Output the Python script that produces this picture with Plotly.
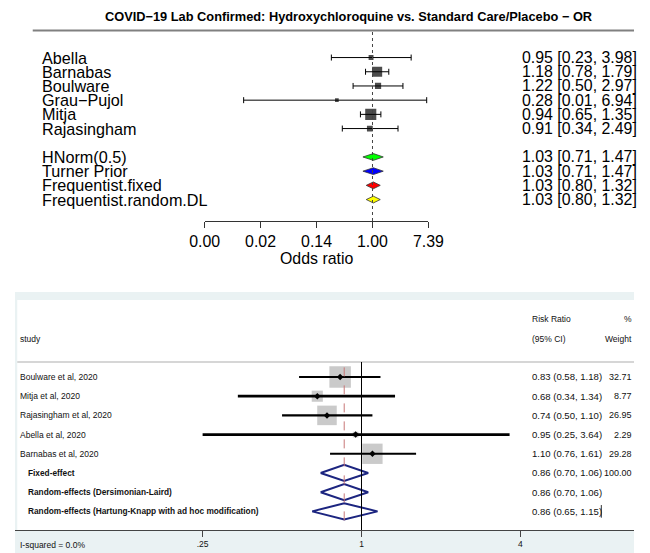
import math
import plotly.graph_objects as go

# ---------------- data: top panel (odds ratios) ----------------
top_title = "COVID\u221219 Lab Confirmed: Hydroxychloroquine vs. Standard Care/Placebo \u2212 OR"
top_studies = ["Abella", "Barnabas", "Boulware", "Grau\u2212Pujol", "Mitja", "Rajasingham"]
top_or = [0.95, 1.18, 1.22, 0.28, 0.94, 0.91]
top_lo = [0.23, 0.78, 0.50, 0.01, 0.65, 0.34]
top_hi = [3.98, 1.79, 2.97, 6.94, 1.35, 2.49]

pool_names = ["HNorm(0.5)", "Turner Prior", "Frequentist.fixed", "Frequentist.random.DL"]
pool_or = [1.03, 1.03, 1.03, 1.03]
pool_lo = [0.71, 0.71, 0.80, 0.80]
pool_hi = [1.47, 1.47, 1.32, 1.32]
pool_colors = ["#00ff00", "#0000ff", "#ff0000", "#ffff00"]

top_tick_logs = [-6, -4, -2, 0, 2]
top_tick_text = ["0.00", "0.02", "0.14", "1.00", "7.39"]
top_xlabel = "Odds ratio"

# ---------------- data: bottom panel (risk ratios) ----------------
bot_studies = ["Boulware et al, 2020", "Mitja et al, 2020", "Rajasingham et al, 2020",
               "Abella et al, 2020", "Barnabas et al, 2020"]
bot_rr = [0.83, 0.68, 0.74, 0.95, 1.10]
bot_lo = [0.58, 0.34, 0.50, 0.25, 0.76]
bot_hi = [1.18, 1.34, 1.10, 3.64, 1.61]
bot_w = [32.71, 8.77, 26.95, 2.29, 29.28]

sum_names = ["Fixed-effect", "Random-effects (Dersimonian-Laird)",
             "Random-effects (Hartung-Knapp with ad hoc modification)"]
sum_rr = [0.86, 0.86, 0.86]
sum_lo = [0.70, 0.70, 0.65]
sum_hi = [1.06, 1.06, 1.15]
sum_w = [100.00, None, None]

bot_ticks = [0.25, 1, 4]
bot_tick_text = [".25", "1", "4"]
isq_text = "I-squared = 0.0%"

# ---------------- layout helpers ----------------
W, H = 650, 553
SX, OX = 0.953, 15.25          # horizontal mapping of the captured page

def fxp(X):
    """target picture x (px) -> figure px"""
    return (X - OX) / SX

def fx(X):
    return min(max(fxp(X), 0.0), W) / W

def fy(p):
    return 1 - p / H

TOPFONT = "Liberation Sans, Arial, sans-serif"
BOTFONT = "Liberation Sans, Arial, sans-serif"

fig = go.Figure()

# ---------- top panel ----------
top_rows = list(range(len(top_studies)))
pool_rows = [len(top_studies) + 1 + i for i in range(len(pool_names))]

inv_se = [3.92 / (math.log(h) - math.log(l)) for l, h in zip(top_lo, top_hi)]
mn, mx = min(inv_se), max(inv_se)
top_sizes = [7.4 * (0.5 + (v - mn) / (mx - mn)) for v in inv_se]

fig.add_trace(go.Scatter(
    x=top_or, y=top_rows, mode="markers", xaxis="x", yaxis="y",
    marker=dict(symbol="square", size=top_sizes, color="black", line=dict(width=0)),
    error_x=dict(type="data", symmetric=False,
                 array=[h - o for h, o in zip(top_hi, top_or)],
                 arrayminus=[o - l for o, l in zip(top_or, top_lo)],
                 color="black", thickness=1, width=3),
    showlegend=False, hoverinfo="skip"))

dh = 0.24
for r, o, l, h, c in zip(pool_rows, pool_or, pool_lo, pool_hi, pool_colors):
    fig.add_trace(go.Scatter(
        x=[l, o, h, o, l], y=[r, r - dh, r, r + dh, r], mode="lines",
        xaxis="x", yaxis="y", fill="toself", fillcolor=c,
        line=dict(color="#333333", width=0.8),
        showlegend=False, hoverinfo="skip"))

# ---------- bottom panel ----------
brows = list(range(len(bot_studies)))
srows = [len(bot_studies) + i for i in range(len(sum_names))]
wmax = max(bot_w)
box_sizes = [21.5 * math.sqrt(w / wmax) for w in bot_w]

fig.add_trace(go.Scatter(
    x=bot_rr, y=brows, mode="markers", xaxis="x2", yaxis="y2",
    marker=dict(symbol="square", size=box_sizes, color="#b4b4b4", line=dict(width=0)),
    showlegend=False, hoverinfo="skip"))

line_w = [2.0, 2.8, 2.3, 2.6, 2.0]
for r, l, h, lw in zip(brows, bot_lo, bot_hi, line_w):
    fig.add_trace(go.Scatter(
        x=[l, h], y=[r, r], mode="lines", xaxis="x2", yaxis="y2",
        line=dict(color="black", width=lw), showlegend=False, hoverinfo="skip"))

fig.add_trace(go.Scatter(
    x=bot_rr, y=brows, mode="markers", xaxis="x2", yaxis="y2",
    marker=dict(symbol="diamond", size=5, color="black"),
    showlegend=False, hoverinfo="skip"))

sh = 0.42
for r, o, l, h in zip(srows, sum_rr, sum_lo, sum_hi):
    fig.add_trace(go.Scatter(
        x=[l, o, h, o, l], y=[r, r - sh, r, r + sh, r], mode="lines",
        xaxis="x2", yaxis="y2", line=dict(color="#1c2580", width=2),
        showlegend=False, hoverinfo="skip"))

# ---------- shapes ----------
shapes = []
shapes.append(dict(type="rect", xref="paper", yref="paper", x0=fx(10), x1=1, y0=0, y1=fy(292),
                   fillcolor="#eaf2f3", line=dict(width=0), layer="below"))
shapes.append(dict(type="rect", xref="paper", yref="paper", x0=fx(17.5), x1=1, y0=fy(530), y1=fy(300),
                   fillcolor="white", line=dict(width=0), layer="below"))
shapes.append(dict(type="line", xref="paper", yref="paper", x0=fx(17.5), x1=1, y0=fy(362), y1=fy(362),
                   line=dict(color="#c8c8c8", width=1.5)))
shapes.append(dict(type="line", xref="paper", yref="paper", x0=fx(33), x1=1, y0=fy(30.5), y1=fy(30.5),
                   line=dict(color="#808080", width=2)))
shapes.append(dict(type="line", xref="x", yref="y domain", x0=1, x1=1, y0=0, y1=1,
                   line=dict(color="#444444", width=1, dash="dot")))
shapes.append(dict(type="line", xref="x2", yref="y2", x0=1, x1=1, y0=-0.78, y1=7.97,
                   line=dict(color="black", width=1)))
shapes.append(dict(type="line", xref="x2", yref="y2", x0=sum_rr[0], x1=sum_rr[0], y0=-0.5, y1=7.5,
                   line=dict(color="#c87878", width=1, dash="dash")))
shapes.append(dict(type="line", xref="paper", yref="y2", x0=fx(602), x1=fx(602),
                   y0=srows[2] - 0.33, y1=srows[2] + 0.33, line=dict(color="#333333", width=1)))

# ---------- annotations ----------
ann = []
ann.append(dict(text="<b>" + top_title + "</b>", xref="paper", yref="paper", x=fx(349), y=fy(16.5),
                xanchor="center", yanchor="middle", showarrow=False,
                font=dict(family=TOPFONT, size=12.8, color="black")))
tf_lab = dict(family=TOPFONT, size=16.2, color="black")
tf_num = dict(family=TOPFONT, size=15.9, color="black")
for r, name, o, l, h in zip(top_rows + pool_rows, top_studies + pool_names,
                            top_or + pool_or, top_lo + pool_lo, top_hi + pool_hi):
    ann.append(dict(text=name, xref="paper", yref="y", x=fx(40), y=r, xanchor="left",
                    yanchor="middle", showarrow=False, font=tf_lab))
    ann.append(dict(text=f"{o:.2f} [{l:.2f}, {h:.2f}]", xref="paper", yref="y", x=fx(521), y=r,
                    xanchor="left", yanchor="middle", showarrow=False, font=tf_num))
ann.append(dict(text=top_xlabel, xref="paper", yref="paper", x=fx(317), y=fy(258),
                xanchor="center", yanchor="middle", showarrow=False, font=tf_num))

bf = dict(family=BOTFONT, size=8.5, color="#111111")
bb = dict(family=BOTFONT, size=8.3, color="#111111")
nf = dict(family=BOTFONT, size=9.55, color="#111111")
wf = dict(family=BOTFONT, size=9.0, color="#111111")
RIGHT = 1.0
ann.append(dict(text="study", xref="paper", yref="y2", x=fx(18), y=-2, xanchor="left",
                yanchor="middle", showarrow=False, font=bf))
ann.append(dict(text="Risk Ratio", xref="paper", yref="y2", x=fx(531), y=-3, xanchor="left",
                yanchor="middle", showarrow=False, font=bf))
ann.append(dict(text="(95% CI)", xref="paper", yref="y2", x=fx(531), y=-2, xanchor="left",
                yanchor="middle", showarrow=False, font=bf))
ann.append(dict(text="%", xref="paper", yref="y2", x=RIGHT, y=-3, xanchor="right",
                yanchor="middle", showarrow=False, font=bf))
ann.append(dict(text="Weight", xref="paper", yref="y2", x=RIGHT, y=-2, xanchor="right",
                yanchor="middle", showarrow=False, font=bf))
for r, name, o, l, h, w in zip(brows, bot_studies, bot_rr, bot_lo, bot_hi, bot_w):
    ann.append(dict(text=name, xref="paper", yref="y2", x=fx(18), y=r, xanchor="left",
                    yanchor="middle", showarrow=False, font=bf))
    ann.append(dict(text=f"{o:.2f} ({l:.2f}, {h:.2f})", xref="paper", yref="y2", x=fx(531), y=r,
                    xanchor="left", yanchor="middle", showarrow=False, font=nf))
    ann.append(dict(text=f"{w:.2f}", xref="paper", yref="y2", x=RIGHT, y=r,
                    xanchor="right", yanchor="middle", showarrow=False, font=wf))
for r, name, o, l, h, w in zip(srows, sum_names, sum_rr, sum_lo, sum_hi, sum_w):
    ann.append(dict(text="<b>" + name + "</b>", xref="paper", yref="y2", x=fx(26), y=r,
                    xanchor="left", yanchor="middle", showarrow=False, font=bb))
    ann.append(dict(text=f"{o:.2f} ({l:.2f}, {h:.2f})", xref="paper", yref="y2", x=fx(531), y=r,
                    xanchor="left", yanchor="middle", showarrow=False, font=nf))
    if w is not None:
        ann.append(dict(text=f"{w:.2f}", xref="paper", yref="y2", x=RIGHT, y=r,
                        xanchor="right", yanchor="middle", showarrow=False, font=wf))
ann.append(dict(text=isq_text, xref="paper", yref="paper", x=fx(18), y=fy(545), xanchor="left",
                yanchor="middle", showarrow=False, font=bf))

# ---------- axes ----------
L10 = math.log(10)
top_k = 28.0       # picture px per natural-log unit (top)
top_c = 373.0      # picture px of OR = 1
bot_k = 114.7      # picture px per natural-log unit (bottom)
bot_c = 362.0      # picture px of RR = 1

bot_left_X = OX + SX * 0.0
bot_right_X = OX + SX * W

fig.update_layout(
    width=W, height=H, autosize=False,
    margin=dict(l=0, r=0, t=0, b=0, pad=0),
    paper_bgcolor="white", plot_bgcolor="rgba(0,0,0,0)",
    showlegend=False,
    shapes=shapes, annotations=ann,
    xaxis=dict(type="log",
               domain=[fx(top_c + top_k * top_tick_logs[0]), fx(top_c + top_k * top_tick_logs[-1])],
               range=[top_tick_logs[0] / L10, top_tick_logs[-1] / L10],
               anchor="y", showgrid=False, zeroline=False,
               showline=True, linecolor="#333333", linewidth=1,
               ticks="outside", ticklen=6, tickcolor="#333333", tickwidth=1,
               tickvals=[math.exp(t) for t in top_tick_logs], ticktext=top_tick_text,
               tickfont=tf_num),
    yaxis=dict(domain=[fy(221), fy(32)], range=[11.51, -1.80], anchor="x",
               visible=False, showgrid=False, zeroline=False),
    xaxis2=dict(type="log", domain=[fx(bot_left_X), fx(bot_right_X)],
                range=[(bot_left_X - bot_c) / bot_k / L10, (bot_right_X - bot_c) / bot_k / L10],
                anchor="y2", showgrid=False, zeroline=False,
                showline=True, linecolor="#444444", linewidth=1,
                ticks="outside", ticklen=6, tickcolor="#444444", tickwidth=1,
                tickvals=bot_ticks, ticktext=bot_tick_text, tickfont=bf),
    yaxis2=dict(domain=[fy(530), fy(300)], range=[7.97, -4.01], anchor="x2",
                visible=False, showgrid=False, zeroline=False),
)

page_fix = ("document.documentElement.style.margin='0';document.body.style.margin='0';"
            "document.documentElement.style.overflow='hidden';document.body.style.overflow='hidden';"
            "var gd=document.getElementById('{plot_id}');"
            "gd.style.position='fixed';gd.style.left='0px';gd.style.top='0px';")
fig.write_html("out.html", post_script=page_fix,
               config={"displayModeBar": False, "responsive": False})
